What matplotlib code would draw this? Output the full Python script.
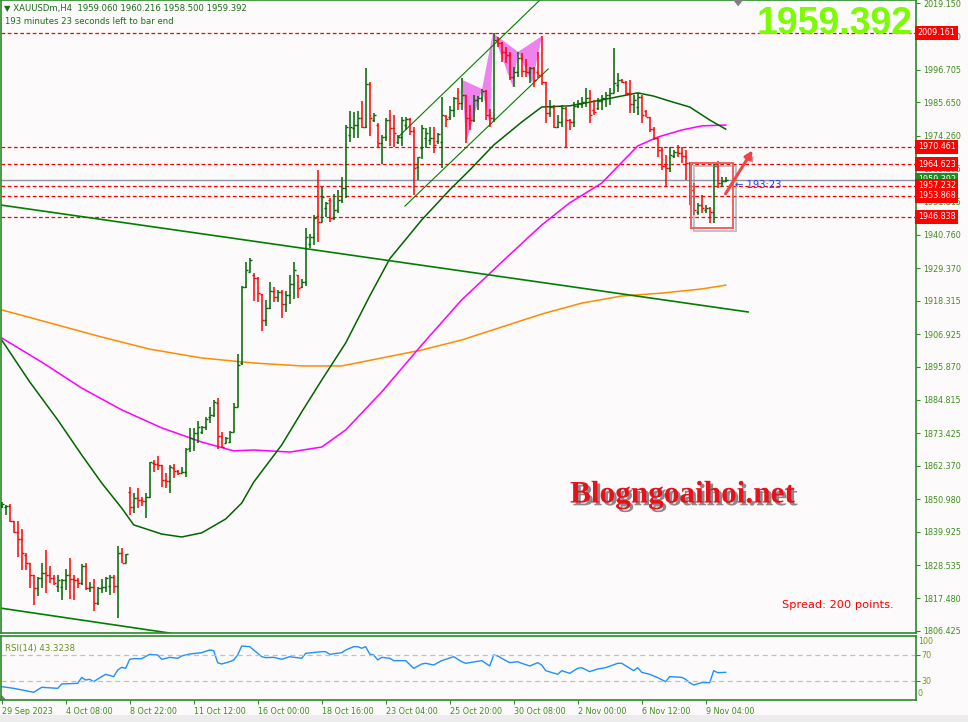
import numpy as np
import matplotlib.pyplot as plt
import matplotlib.patheffects as pe
from matplotlib.patches import Polygon, Rectangle

# XAUUSDm H4 bars (index 0 = 29 Sep 2023)
opens = [1848.7, 1848.4, 1848.7, 1843.6, 1840.0, 1837.5, 1832.1, 1829.4, 1825.3, 1820.8,
         1824.2, 1826.1, 1825.3, 1824.2, 1821.6, 1821.3, 1823.6, 1825.3, 1824.1, 1823.6,
         1822.7, 1828.5, 1820.8, 1821.3, 1815.7, 1820.8, 1821.3, 1821.6, 1824.7, 1821.6,
         1832.7, 1829.5, 1853.6, 1848.5, 1851.5, 1850.7, 1850.4, 1851.9, 1863.2, 1862.9,
         1862.6, 1857.5, 1857.3, 1861.6, 1860.6, 1860.0, 1860.2, 1868.3, 1871.3, 1873.4,
         1873.9, 1875.6, 1879.0, 1879.5, 1883.5, 1872.5, 1870.2, 1870.5, 1873.9, 1882.4,
         1897.1, 1923.1, 1928.2, 1927.0, 1926.0, 1920.5, 1911.8, 1915.7, 1921.6, 1919.6,
         1921.3, 1917.2, 1920.3, 1924.1, 1927.0, 1923.0, 1924.7, 1937.6, 1939.9, 1947.0,
         1945.0, 1949.8, 1952.5, 1946.4, 1949.1, 1952.5, 1956.4, 1974.5, 1977.0, 1977.9,
         1980.4, 1977.3, 1991.7, 1979.6, 1977.9, 1971.8, 1973.9, 1979.6, 1976.9, 1972.1,
         1973.8, 1977.9, 1979.9, 1975.9, 1963.7, 1970.0, 1973.5, 1972.8, 1973.5, 1972.5,
         1972.1, 1981.0, 1980.6, 1983.0, 1987.1, 1985.5, 1988.0, 1980.3, 1979.6, 1986.4,
         1987.2, 1989.5, 1981.3, 1980.3, 2006.7, 2005.7, 2002.8, 2001.5, 1994.2, 1996.0,
         2000.6, 1996.2, 1995.9, 1997.2, 1996.0, 1995.0, 1992.5, 1982.0, 1984.0, 1977.2,
         1978.9, 1983.7, 1979.6, 1978.9, 1984.4, 1985.0, 1985.7, 1987.1, 1983.0, 1983.6,
         1986.0, 1987.0, 1988.1, 1988.9, 1991.5, 1993.2, 1992.5, 1988.8, 1985.0, 1984.0,
         1987.4, 1982.5, 1980.6, 1976.4, 1973.5, 1969.4, 1964.0, 1963.3, 1967.4, 1968.8,
         1968.4, 1967.4, 1964.9, 1955.9, 1948.4, 1950.8, 1949.1, 1949.8, 1948.4, 1964.0,
         1958.3, 1959.06]
highs = [1850.2, 1849.0, 1849.4, 1843.6, 1843.6, 1840.9, 1832.8, 1829.5, 1825.3, 1824.7,
         1829.3, 1833.8, 1828.5, 1825.3, 1825.3, 1824.0, 1827.3, 1831.2, 1825.3, 1824.4,
         1829.0, 1829.3, 1823.0, 1823.8, 1821.3, 1823.8, 1824.7, 1825.3, 1825.3, 1835.1,
         1834.4, 1832.4, 1855.3, 1853.1, 1854.9, 1851.9, 1853.0, 1863.7, 1864.3, 1865.7,
         1862.6, 1860.0, 1862.6, 1863.0, 1860.9, 1862.0, 1868.3, 1875.1, 1875.1, 1877.5,
         1875.8, 1879.0, 1882.4, 1884.7, 1885.2, 1873.9, 1872.2, 1874.1, 1883.5, 1900.3,
         1923.3, 1931.5, 1932.7, 1927.7, 1926.2, 1920.6, 1918.6, 1924.6, 1922.9, 1921.9,
         1921.9, 1921.6, 1927.0, 1931.5, 1927.2, 1925.7, 1943.1, 1940.8, 1947.4, 1962.6,
         1957.0, 1951.9, 1953.3, 1954.4, 1955.9, 1960.4, 1977.9, 1982.7, 1982.2, 1982.7,
         1986.0, 1997.1, 1992.6, 1981.9, 1978.5, 1974.5, 1980.3, 1983.0, 1981.3, 1974.5,
         1980.7, 1980.7, 1980.3, 1977.1, 1967.2, 1977.9, 1976.8, 1977.3, 1977.3, 1975.1,
         1987.5, 1981.3, 1984.4, 1987.3, 1990.4, 1993.7, 1988.2, 1984.7, 1988.1, 1987.6,
         1990.2, 1989.8, 1983.2, 2009.2, 2007.8, 2006.2, 2004.5, 2002.8, 1997.7, 2002.8,
         2002.2, 2000.4, 1997.7, 1997.7, 2002.8, 2008.1, 1992.6, 1986.4, 1984.7, 1981.3,
         1984.7, 1984.0, 1980.0, 1985.8, 1986.4, 1987.5, 1990.4, 1989.8, 1986.4, 1987.0,
         1988.1, 1989.2, 1990.4, 2003.9, 1995.4, 1993.5, 1992.8, 1993.2, 1988.1, 1988.7,
         1988.1, 1983.0, 1980.7, 1977.3, 1973.6, 1970.5, 1967.7, 1970.5, 1969.4, 1971.1,
         1970.5, 1969.4, 1965.2, 1958.1, 1951.4, 1954.2, 1950.8, 1950.0, 1964.7, 1965.8,
         1960.4, 1960.216]
lows = [1847.9, 1845.7, 1843.4, 1839.4, 1831.3, 1827.0, 1827.0, 1820.8, 1815.1, 1818.3,
        1820.8, 1819.1, 1822.5, 1821.9, 1819.6, 1816.8, 1820.2, 1817.1, 1816.8, 1820.8,
        1821.9, 1820.2, 1819.6, 1813.2, 1815.1, 1819.1, 1819.6, 1818.5, 1819.1, 1810.6,
        1829.3, 1829.3, 1845.7, 1846.4, 1848.1, 1848.7, 1844.5, 1851.4, 1860.3, 1860.9,
        1855.3, 1854.7, 1853.2, 1858.1, 1859.2, 1859.8, 1858.6, 1867.1, 1867.5, 1870.0,
        1873.1, 1874.5, 1876.7, 1879.0, 1867.9, 1868.3, 1870.0, 1870.2, 1873.9, 1882.4,
        1896.5, 1922.5, 1928.2, 1918.2, 1918.0, 1908.1, 1909.8, 1915.5, 1918.0, 1917.8,
        1912.4, 1914.4, 1917.1, 1918.9, 1919.1, 1922.5, 1923.4, 1936.3, 1937.2, 1938.3,
        1944.9, 1946.8, 1945.1, 1945.7, 1948.0, 1951.4, 1953.1, 1972.0, 1973.4, 1973.6,
        1976.8, 1976.8, 1974.3, 1979.0, 1970.2, 1964.6, 1972.5, 1970.8, 1970.5, 1971.5,
        1970.8, 1976.2, 1974.5, 1954.2, 1959.3, 1966.5, 1970.0, 1971.1, 1968.4, 1971.5,
        1963.2, 1977.3, 1979.6, 1980.7, 1983.0, 1983.0, 1971.7, 1976.2, 1979.0, 1983.0,
        1985.8, 1979.6, 1977.2, 1979.0, 2004.5, 1999.4, 1998.8, 1993.2, 1990.9, 1994.3,
        1994.3, 1994.3, 1992.0, 1990.9, 1993.7, 1991.5, 1978.5, 1980.7, 1976.8, 1976.8,
        1977.3, 1970.0, 1976.2, 1977.2, 1983.6, 1983.6, 1984.1, 1978.7, 1981.3, 1983.0,
        1983.0, 1984.1, 1984.7, 1988.7, 1989.2, 1992.0, 1988.1, 1982.1, 1981.9, 1981.3,
        1978.5, 1980.5, 1975.6, 1972.8, 1967.2, 1962.6, 1957.0, 1962.1, 1966.6, 1967.2,
        1964.9, 1959.3, 1950.8, 1947.4, 1947.4, 1948.0, 1948.0, 1944.6, 1944.8, 1956.4,
        1957.0, 1958.5]
closes = [1849.4, 1848.7, 1843.6, 1840.0, 1837.5, 1832.9, 1829.4, 1825.3, 1820.8, 1824.2,
          1826.1, 1825.3, 1824.2, 1822.7, 1823.6, 1823.6, 1825.3, 1824.1, 1823.6, 1822.7,
          1828.5, 1820.8, 1821.3, 1815.7, 1820.8, 1821.3, 1824.4, 1824.7, 1821.6, 1832.7,
          1829.5, 1832.4, 1848.3, 1851.5, 1850.7, 1850.4, 1851.9, 1863.5, 1862.9, 1862.6,
          1857.5, 1857.3, 1862.0, 1860.6, 1860.0, 1860.2, 1868.0, 1871.7, 1873.4, 1875.6,
          1875.6, 1878.2, 1879.5, 1883.9, 1872.5, 1868.8, 1871.7, 1873.9, 1882.4, 1896.5,
          1923.1, 1928.7, 1932.1, 1926.0, 1920.9, 1911.8, 1915.7, 1921.6, 1919.6, 1921.3,
          1917.2, 1920.3, 1924.1, 1928.7, 1922.6, 1924.7, 1939.9, 1939.9, 1946.3, 1945.0,
          1953.6, 1951.5, 1946.4, 1949.1, 1952.5, 1956.4, 1977.3, 1977.2, 1977.9, 1980.4,
          1977.3, 1991.7, 1980.3, 1981.3, 1971.8, 1973.9, 1979.6, 1976.9, 1975.2, 1973.8,
          1979.6, 1979.9, 1975.9, 1963.3, 1967.1, 1976.9, 1975.2, 1973.5, 1971.1, 1974.9,
          1981.3, 1979.9, 1983.0, 1987.1, 1985.5, 1988.0, 1980.3, 1979.6, 1986.4, 1987.2,
          1989.5, 1981.3, 1980.3, 2006.7, 2005.7, 2002.8, 2001.5, 1994.2, 1996.0, 2000.6,
          1996.2, 1995.9, 1997.2, 1993.2, 1994.9, 1992.5, 1982.0, 1984.0, 1977.2, 1978.9,
          1983.7, 1979.6, 1978.9, 1984.4, 1985.4, 1985.7, 1987.1, 1981.3, 1982.3, 1986.0,
          1987.0, 1988.1, 1988.9, 1992.0, 1993.2, 1992.5, 1988.8, 1985.0, 1986.4, 1987.4,
          1981.3, 1980.6, 1976.4, 1973.5, 1969.4, 1964.0, 1963.3, 1967.7, 1968.8, 1968.4,
          1967.4, 1964.9, 1955.9, 1949.1, 1950.8, 1949.7, 1949.8, 1948.4, 1964.0, 1958.3,
          1959.0, 1959.392]

# moving averages (bar index, price)
ma50_idx = [0, 7, 14, 20, 25, 30, 33, 40, 45, 50, 56, 60, 63, 70, 75, 80, 86, 92, 97,
            105, 112, 117, 123, 130, 135, 142, 150, 159, 163, 167, 172, 177, 181]
ma50_val = [1905.0, 1890.8, 1877.9, 1866.0, 1856.5, 1848.0, 1842.3, 1839.2, 1838.2, 1839.6,
            1844.3, 1849.7, 1856.8, 1869.4, 1880.6, 1891.4, 1904.0, 1919.9, 1932.5, 1945.7,
            1955.9, 1962.6, 1971.1, 1978.9, 1984.0, 1984.4, 1986.4, 1988.8, 1987.7, 1986.0,
            1984.0, 1979.6, 1976.5]
ma100_idx = [0, 10, 20, 30, 40, 50, 58, 63, 72, 80, 86, 95, 105, 115, 125, 135, 142, 150,
             159, 164, 170, 175, 181]
ma100_val = [1905.7, 1897.5, 1888.7, 1881.3, 1875.2, 1870.4, 1867.4, 1867.7, 1867.0, 1868.7,
             1874.5, 1887.4, 1903.3, 1918.6, 1931.4, 1944.0, 1951.5, 1958.2, 1970.8, 1973.8,
             1976.2, 1977.6, 1977.9]
ma200_idx = [0, 12, 25, 37, 50, 63, 75, 85, 95, 105, 115, 125, 135, 145, 155, 165, 175, 181]
ma200_val = [1915.2, 1910.8, 1906.0, 1901.9, 1898.9, 1897.2, 1896.2, 1896.2, 1898.9, 1901.6,
             1905.0, 1909.4, 1913.8, 1917.5, 1919.9, 1920.9, 1922.3, 1923.6]

# RSI(14)
rsi_idx = [0, 3, 6, 8, 10, 14, 15, 19, 20, 21, 22, 23, 25, 26, 28, 29, 30, 31, 32, 33,
           35, 37, 39, 40, 42, 44, 45, 47, 50, 52, 53, 54, 55, 57, 58, 59, 60, 62, 65, 66,
           68, 70, 72, 75, 76, 80, 81, 82, 85, 86, 88, 89, 90, 91, 92, 93, 94, 95, 97, 98,
           101, 103, 105, 106, 108, 110, 113, 115, 116, 120, 122, 123, 124, 125, 127, 129, 130, 132, 134, 135,
           136, 139, 140, 142, 144, 145, 147, 149, 151, 154, 155, 158, 159, 160, 162, 164, 166, 167, 170, 171,
           172, 173, 175, 177, 178, 179, 181]
rsi_val = [21.3, 18.7, 15.1, 12.6, 20.3, 18.7, 25.4, 26.4, 35.6, 31.5, 32.6, 29.0, 36.7, 40.3, 36.7, 46.9, 51.0, 49.5, 63.3, 64.4,
           64.4, 71.0, 70.0, 63.3, 66.4, 64.9, 68.5, 71.5, 73.6, 77.7, 76.7, 58.0, 56.1, 59.7, 62.3, 70.0, 83.8, 82.8, 67.4, 65.9,
           66.4, 63.3, 67.4, 64.9, 72.6, 75.1, 75.1, 71.0, 73.6, 77.7, 82.8, 82.8, 80.3, 82.8, 71.5, 70.0, 62.3, 66.4, 64.9, 61.3,
           61.3, 49.5, 56.1, 57.2, 54.6, 61.3, 67.4, 59.7, 57.2, 61.3, 53.1, 70.0, 68.5, 64.9, 58.2, 59.7, 57.2, 53.1, 58.2, 54.6,
           45.9, 40.3, 45.9, 41.8, 49.5, 50.5, 44.4, 48.5, 50.5, 57.2, 57.2, 45.9, 50.5, 43.3, 40.3, 35.1, 29.0, 36.7, 35.6, 32.6,
           27.5, 23.9, 27.5, 27.5, 45.9, 42.8, 43.3]

red_levels = [2009.161, 1970.461, 1964.623, 1957.232, 1953.868, 1946.838]
bid = 1959.392
price_ticks = [2019.150, 2007.760, 1996.705, 1985.650, 1974.260, 1963.205, 1951.815, 1940.760,
               1929.370, 1918.315, 1906.925, 1895.870, 1884.815, 1873.425, 1862.370, 1850.980,
               1839.925, 1828.535, 1817.480, 1806.425]
time_idx = [0, 16, 32, 48, 64, 80, 96, 112, 128, 144, 160, 176]
time_labels = ["29 Sep 2023", "4 Oct 08:00", "8 Oct 22:00", "11 Oct 12:00", "16 Oct 00:00",
               "18 Oct 16:00", "23 Oct 04:00", "25 Oct 20:00", "30 Oct 08:00", "2 Nov 00:00",
               "6 Nov 12:00", "9 Nov 04:00"]

# drawn objects (bar index, price)
trend_long = ([-0.4, 186.6], [1950.8, 1914.5])
trend_low = ([-0.4, 42.1], [1814.1, 1805.6])
chan_up = ([99.1, 134.8], [1973.8, 2020.6])
chan_dn = ([100.8, 136.6], [1950.4, 1996.9])
zz_idx = [115.1, 116.1, 120.1, 122.1, 122.8, 127.8, 129.1, 132.6, 135.1]
zz_val = [1993.2, 1972.1, 1990.1, 1977.2, 2009.1, 1990.8, 2002.7, 1992.1, 2008.1]

BG = '#fcfafa'
FRAME = '#2a8a2a'
TXT = '#3e8e1e'

fig = plt.figure(figsize=(9.68, 7.22), dpi=100, facecolor=BG)
ax = fig.add_axes([1/968, 89/722, 915/968, 633/722], facecolor=BG)
ax2 = fig.add_axes([1/968, 22/722, 915/968, 64/722], facecolor=BG)
fig.patches.append(Rectangle((0, 0), 1, 7/722, transform=fig.transFigure,
                             fc='#ececec', ec='none'))

idx = np.arange(len(closes))
o = np.array(opens); c = np.array(closes)
cols = np.where(c > o, '#006400', '#ff0000')

# harmonic pattern triangles
for k in range(0, 7, 2):
    tri = list(zip(zz_idx[k:k + 3], zz_val[k:k + 3]))
    ax.add_patch(Polygon(tri, closed=True, fc='#ee82ee', ec='none', zorder=1))

# levels
for p in red_levels:
    ax.axhline(p, color='#ff0000', lw=0.9, ls=(0, (3, 2)), zorder=1.5)
ax.axhline(bid, color='#8a94a0', lw=1.0, zorder=1.5)

# MAs
ax.plot(ma200_idx, ma200_val, color='#ff8c00', lw=1.1, zorder=2)
ax.plot(ma100_idx, ma100_val, color='#ff00ff', lw=1.1, zorder=2)
ax.plot(ma50_idx, ma50_val, color='#006400', lw=1.1, zorder=2)

# trend lines
ax.plot(*trend_long, color='#008000', lw=1.2, zorder=2)
ax.plot(*trend_low, color='#008000', lw=1.2, zorder=2)
ax.plot(*chan_up, color='#008000', lw=0.8, zorder=2)
ax.plot(*chan_dn, color='#008000', lw=0.8, zorder=2)

# OHLC bars
ax.vlines(idx, lows, highs, colors=cols, lw=1.1, zorder=3)
ax.hlines(opens, idx - 0.5, idx, colors=cols, lw=1.0, zorder=3)
ax.hlines(closes, idx, idx + 0.5, colors=cols, lw=1.0, zorder=3)

# box and arrow
shadow = [pe.SimpleLineShadow(offset=(2, -2), shadow_color='#888888', alpha=0.5), pe.Normal()]
box = Rectangle((172.3, 1943.0), 10.5, 22.0, fill=False, ec='#f06060', lw=1.4, zorder=4)
box.set_path_effects(shadow)
ax.add_patch(box)
ann = ax.annotate('', xy=(188.1, 1970.1), xytext=(180.6, 1953.8),
                  arrowprops=dict(arrowstyle='-|>', color='#f04545', lw=2.2, mutation_scale=11),
                  zorder=4)
ann.arrow_patch.set_path_effects([pe.SimplePatchShadow(offset=(2, -2), alpha=0.4), pe.Normal()])
ax.text(183.3, 1957.4, '\u2190 193:23', color='#1f3cff', fontsize=7.2, va='center', zorder=4)

# chart shift marker
ax.add_patch(Polygon([(733/916, 1.0), (743/916, 1.0), (738/916, 0.990)], closed=True,
                     transform=ax.transAxes, fc='#808080', ec='none', clip_on=False, zorder=5))

ax.set_xlim(-0.175, 228.575)
ax.set_ylim(1805.64, 2020.29)
ax.set_xticks([])
ax.yaxis.tick_right()
ax.set_yticks(price_ticks)
ax.set_yticklabels([f'{v:.3f}' for v in price_ticks])
ax.tick_params(axis='y', direction='out', length=3, width=0.8, color=FRAME,
               labelcolor=TXT, labelsize=5.8, pad=2)
for a in (ax, ax2):
    for s in a.spines.values():
        s.set_color(FRAME)
        s.set_linewidth(1.2)

# right-side price labels
yt = ax.get_yaxis_transform()
def price_label(p, fc, z):
    ax.text(1.002, p, f'{p:.3f}', transform=yt, ha='left', va='center', fontsize=5.8,
            color='white', zorder=z, clip_on=False,
            bbox=dict(boxstyle='square,pad=0.3', fc=fc, ec='none'))

price_label(bid, '#1e8c1e', 5)
for p in red_levels:
    price_label(p, '#ff0000', 6)

# header texts
ax.text(0.003, 0.987, '\u25bc XAUUSDm,H4  1959.060 1960.216 1958.500 1959.392',
        transform=ax.transAxes, va='center', fontsize=6.1, color='#1a6e1a')
ax.text(0.004, 0.966, '193 minutes 23 seconds left to bar end',
        transform=ax.transAxes, va='center', fontsize=6.1, color='#1a6e1a')
fig.text(913/968, 1 - 24/722, '1959.392', ha='right', va='center', color='#7cfc00',
         fontsize=27, fontweight='bold', family='Liberation Sans')
fig.text(570/968, 1 - 495/722, 'Blogngoaihoi.net', ha='left', va='center', color='#e8101a',
         fontsize=22.5, fontweight='bold', family='Liberation Serif',
         path_effects=[pe.withSimplePatchShadow(offset=(2, -2), shadow_rgbFace='#000000', alpha=0.45)])
fig.text(782/968, 1 - 605/722, 'Spread: 200 points.', ha='left', va='center',
         color='#ff0000', fontsize=8.2)

# RSI panel
ax2.plot(rsi_idx, rsi_val, color='#1e90ff', lw=1.0)
for lv in (70, 30):
    ax2.axhline(lv, color='#c0c0c0', lw=0.9, ls=(0, (4, 3)))
ax2.set_xlim(-0.175, 228.575)
ax2.set_ylim(0.77, 99.2)
ax2.yaxis.tick_right()
ax2.set_yticks([70, 30])
ax2.set_yticklabels(['70', '30'])
ax2.tick_params(axis='y', direction='out', length=3, width=0.8, color=FRAME,
                labelcolor='#7a9a10', labelsize=5.8, pad=1)
ax2.text(1.002, 90, '100', transform=ax2.get_yaxis_transform(), va='center', ha='left',
         fontsize=5.8, color='#7a9a10', clip_on=False)
ax2.text(1.002, 11, '0', transform=ax2.get_yaxis_transform(), va='center', ha='left',
         fontsize=5.8, color='#7a9a10', clip_on=False)
ax2.text(0.004, 0.80, 'RSI(14) 43.3238', transform=ax2.transAxes, va='center',
         fontsize=6.2, color='#6b8e23')
ax2.add_patch(Polygon([(0, 0), (0, 0.09), (0.006, 0)], closed=True, transform=ax2.transAxes,
                      fc='#808080', ec='none'))
ax2.set_xticks(time_idx)
ax2.set_xticklabels(time_labels)
ax2.tick_params(axis='x', direction='out', length=3, width=0.8, color=FRAME,
                labelcolor=TXT, labelsize=5.8, pad=2)
for lab in ax2.get_xticklabels():
    lab.set_ha('left')

fig.savefig('out.png', dpi=100, facecolor=BG)
